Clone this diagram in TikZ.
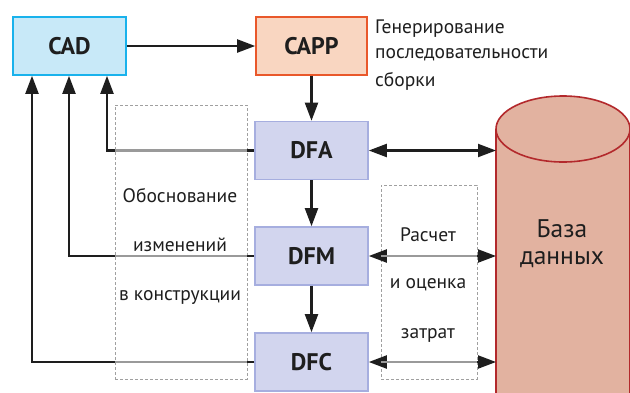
\documentclass[tikz,border=0pt]{standalone}
\usepackage{fontspec}
\setmainfont{PT Sans}
\usetikzlibrary{arrows.meta}
\definecolor{cadfill}{HTML}{C8E9F8}
\definecolor{cadline}{HTML}{19B2EC}
\definecolor{cappfill}{HTML}{F9D6C1}
\definecolor{cappline}{HTML}{E9582B}
\definecolor{dffill}{HTML}{D2D5EE}
\definecolor{dfline}{HTML}{A6AEDF}
\definecolor{dbfill}{HTML}{E2B2A0}
\definecolor{dbline}{HTML}{B3292C}
\definecolor{ink}{HTML}{1E1E1E}
\definecolor{midgray}{HTML}{9A9A9A}
\definecolor{dashgray}{HTML}{A0A0A0}
\tikzset{
  blk/.style={draw, line width=1.6pt, minimum width=113pt, minimum height=58pt,
    inner sep=0pt, font=\fontsize{24}{28}\selectfont\bfseries, text=ink},
  cadbox/.style={blk, fill=cadfill, draw=cadline},
  cappbox/.style={blk, fill=cappfill, draw=cappline, minimum width=111pt},
  dfbox/.style={blk, fill=dffill, draw=dfline},
  conn/.style={draw=ink, line width=2.1pt},
  arr/.style={conn, -{Triangle[length=18pt,width=13pt]}},
  biarr/.style={conn, {Triangle[length=18pt,width=13pt]}-{Triangle[length=18pt,width=13pt]}},
  graypart/.style={draw=midgray, line width=2.1pt},
  dashbox/.style={draw=dashgray, dash pattern=on 3pt off 2pt, line width=0.8pt, inner sep=0pt},
  lbl/.style={font=\fontsize{19.5}{22}\selectfont, text=ink, inner sep=0pt},
  dblbl/.style={font=\fontsize{25.5}{27}\selectfont, text=ink, inner sep=0pt, align=center}
}
\begin{document}
\begin{tikzpicture}[x=1pt,y=-1pt]
\useasboundingbox (0,0) rectangle (630,392);
\begin{scope}
\clip (0,0) rectangle (630,392);

% database cylinder
\fill[dbfill] (496,129) -- (496,460) -- (630,460) -- (630,129) -- cycle;
\fill[dbfill] (563,129) ellipse[x radius=67pt, y radius=33pt];
\draw[dbline, line width=1.6pt] (496,129) -- (496,460);
\draw[dbline, line width=1.6pt] (630,129) -- (630,460);
\draw[dbline, line width=1.6pt] (563,129) ellipse[x radius=67pt, y radius=33pt];
\node[dblbl] (db) at (562,244) {База\\данных};
\coordinate (dbwall) at (496,150);

% dashed frames
\node[dashbox, minimum width=132pt, minimum height=274pt] (just) at (181,242) {};
\node[dashbox, minimum width=96pt, minimum height=194pt] (cost) at (429,282) {};

% blocks
\node[cadbox] (cad) at (69.5,46) {CAD};
\node[cappbox] (capp) at (311.5,46) {CAPP};
\node[dfbox] (dfa) at (311.5,150.5) {DFA};
\node[dfbox] (dfm) at (311.5,256) {DFM};
\node[dfbox] (dfc) at (311.5,362) {DFC};

\node[lbl, anchor=west] (g1) at (375,29) {Генерирование};
\node[lbl, anchor=west] (g2) at (375,55) {последовательности};
\node[lbl, anchor=west] (g3) at (375,81) {сборки};

\node[lbl] (o1) at (180,196) {Обоснование};
\node[lbl] (o2) at (180,245) {изменений};
\node[lbl] (o3) at (180,297) {в конструкции};

\node[lbl] (r1) at (428,235) {Расчет};
\node[lbl] (r2) at (428,285) {и оценка};
\node[lbl] (r3) at (428,335) {затрат};

% main flow
\draw[arr] (cad.east) -- (capp.west);
\draw[arr] (capp.south) -- (dfa.north);
\draw[arr] (dfa.south) -- (dfm.north);
\draw[arr] (dfm.south) -- (dfc.north);

% feedback to CAD
\coordinate (c1) at (107,0);
\coordinate (c2) at (69,0);
\coordinate (c3) at (32,0);
\draw[arr] (dfa.west) -- (dfa.west -| c1) -- (cad.south -| c1);
\draw[arr] (dfm.west) -- (dfm.west -| c2) -- (cad.south -| c2);
\draw[arr] (dfc.west) -- (dfc.west -| c3) -- (cad.south -| c3);
\draw[graypart] (dfa.west -| just.west) -- (dfa.west -| just.east);
\draw[graypart] (dfm.west -| just.west) -- (dfm.west -| just.east);
\draw[graypart] (dfc.west -| just.west) -- (dfc.west -| just.east);

% links with the database
\draw[biarr] (dfa.east) -- (dfa.east -| dbwall);
\draw[biarr] (dfm.east) -- (dfm.east -| dbwall);
\draw[biarr] (dfc.east) -- (dfc.east -| dbwall);
\draw[graypart] (dfm.east -| cost.west) -- (dfm.east -| cost.east);
\draw[graypart] (dfc.east -| cost.west) -- (dfc.east -| cost.east);
\end{scope}
\end{tikzpicture}
\end{document}
